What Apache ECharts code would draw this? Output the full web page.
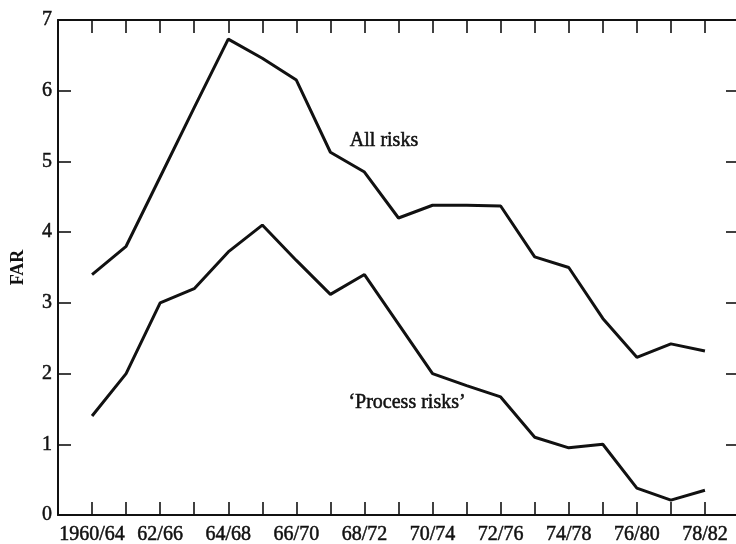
<!DOCTYPE html>
<html>
<head>
<meta charset="utf-8">
<script src="https://cdn.jsdelivr.net/npm/echarts@6/dist/echarts.min.js"></script>
<style>html,body{margin:0;padding:0;background:#fff}#c{width:736px;height:544px}</style>
</head>
<body>
<div id="c"></div>
<script>
const categories = ["1960/64","61/65","62/66","63/67","64/68","65/69","66/70","67/71","68/72","69/73","70/74","71/75","72/76","73/77","74/78","75/79","76/80","77/81","78/82"];
const allRisks = [3.4, 3.8, 4.78, 5.76, 6.73, 6.46, 6.15, 5.13, 4.85, 4.2, 4.38, 4.38, 4.37, 3.65, 3.5, 2.78, 2.23, 2.42, 2.32];
const processRisks = [1.4, 2.0, 3.0, 3.2, 3.72, 4.1, 3.6, 3.12, 3.4, 2.7, 2.0, 1.83, 1.67, 1.1, 0.95, 1.0, 0.38, 0.21, 0.35];
const yTicks = [0,1,2,3,4,5,6,7];

const FONT = 'Liberation Serif';
const INK = '#111';
const chart = echarts.init(document.getElementById('c'), null, {renderer: 'canvas'});
const axisLine = {show: true, onZero: false, lineStyle: {color: INK, width: 2}};
const tick = {show: true, inside: true, length: 13, lineStyle: {color: INK, width: 1.6}};
const heavy = {textBorderColor: INK, textBorderWidth: 0.5};
chart.setOption({
  animation: false,
  backgroundColor: '#fff',
  grid: {left: 58, top: 20, right: -3, bottom: 29, containLabel: false, outerBoundsMode: 'none'},
  xAxis: [{
    type: 'value', min: -1, max: 19, interval: 1, position: 'bottom',
    axisLine: axisLine, axisTick: tick, splitLine: {show: false},
    axisLabel: Object.assign({
      color: INK, fontFamily: FONT, fontSize: 20, margin: 10,
      formatter: v => (v >= 0 && v < categories.length && v % 2 === 0) ? categories[v] : ''
    }, heavy)
  }, {
    type: 'value', min: -1, max: 19, interval: 1, position: 'top',
    axisLine: axisLine, axisTick: tick, splitLine: {show: false},
    axisLabel: {show: false}
  }],
  yAxis: [{
    type: 'value', min: 0, max: 7, interval: 1, position: 'left',
    name: 'FAR', nameLocation: 'middle', nameGap: 31,
    nameTextStyle: {color: INK, fontFamily: FONT, fontSize: 18, fontWeight: 'bold'},
    axisLine: axisLine, axisTick: tick, splitLine: {show: false},
    axisLabel: Object.assign({color: INK, fontFamily: FONT, fontSize: 20, margin: 6,
      formatter: v => yTicks.includes(v) ? String(v) : ''}, heavy)
  }, {
    type: 'value', min: 0, max: 7, interval: 1, position: 'right',
    axisLine: axisLine, axisTick: tick, splitLine: {show: false},
    axisLabel: {show: false}
  }],
  series: [{
    name: 'All risks', type: 'line', symbol: 'none',
    lineStyle: {color: INK, width: 3}, xAxisIndex: 0, yAxisIndex: 0,
    data: allRisks.map((v, i) => [i, v])
  }, {
    name: '‘Process risks’', type: 'line', symbol: 'none',
    lineStyle: {color: INK, width: 3}, xAxisIndex: 0, yAxisIndex: 0,
    data: processRisks.map((v, i) => [i, v])
  }],
  graphic: [{
    type: 'text', x: 384, y: 141,
    style: {text: 'All risks', fill: INK, stroke: INK, lineWidth: 0.5, font: '20px "Liberation Serif"', align: 'center', verticalAlign: 'middle'}
  }, {
    type: 'text', x: 407, y: 403,
    style: {text: '‘Process risks’', fill: INK, stroke: INK, lineWidth: 0.5, font: '20px "Liberation Serif"', align: 'center', verticalAlign: 'middle'}
  }]
});
</script>
</body>
</html>
